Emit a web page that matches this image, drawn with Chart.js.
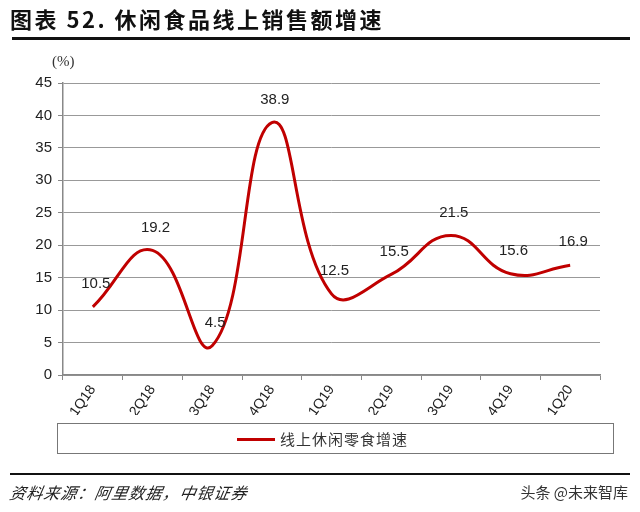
<!DOCTYPE html>
<html>
<head>
<meta charset="utf-8">
<script src="https://cdn.jsdelivr.net/npm/chart.js@4.4.1/dist/chart.umd.min.js"></script>
<style>
  html, body { margin: 0; padding: 0; background: #fff; }
  #wrap { position: relative; width: 640px; height: 512px; overflow: hidden; }
  #c { position: absolute; left: 0; top: 0; }
  .t { position: absolute; white-space: nowrap; }
  #title { left: 10px; top: 2px; font: bold 22px "Noto Sans CJK SC", sans-serif; letter-spacing: 2.5px; color: #111; }
  #tline { position: absolute; left: 12px; top: 37px; width: 618px; height: 3px; background: #111; }
  #unit { left: 52px; top: 53px; font: 15px "Liberation Serif", serif; color: #333; }
  #legbox { position: absolute; left: 57px; top: 423px; width: 557px; height: 31px; border: 1px solid #777; box-sizing: border-box; }
  #legline { position: absolute; left: 237px; top: 438px; width: 38px; height: 3px; background: #c00000; }
  #legtxt { left: 280px; top: 428px; font: 15px "Noto Sans CJK SC", sans-serif; color: #333; letter-spacing: 1px; }
  #fline { position: absolute; left: 10px; top: 473px; width: 620px; height: 2px; background: #111; }
  #src { left: 10px; top: 480px; font: italic 16px "Noto Sans CJK SC", serif; color: #222; letter-spacing: 1px; transform: skewX(-10deg); }
  #wm { right: 12px; top: 481px; font: 15px "Noto Sans CJK SC", sans-serif; color: #333; }
</style>
</head>
<body>
<div id="wrap">
  <canvas id="c" width="640" height="512"></canvas>
  <div class="t" id="title">图表 52. 休闲食品线上销售额增速</div>
  <div id="tline"></div>
  <div class="t" id="unit">(%)</div>
  <div id="legbox"></div>
  <div id="legline"></div>
  <div class="t" id="legtxt">线上休闲零食增速</div>
  <div id="fline"></div>
  <div class="t" id="src">资料来源：阿里数据，中银证券</div>
  <div class="t" id="wm">头条 @未来智库</div>
</div>
<script>
const categories = ["1Q18","2Q18","3Q18","4Q18","1Q19","2Q19","3Q19","4Q19","1Q20"];
const growth = [10.5, 19.2, 4.5, 38.9, 12.5, 15.5, 21.5, 15.6, 16.9];
const seriesName = "线上休闲零食增速";
const yTicks = [0, 5, 10, 15, 20, 25, 30, 35, 40, 45];

const labelPlugin = {
  id: 'valueLabels',
  afterDatasetsDraw(chart) {
    const ctx = chart.ctx;
    const meta = chart.getDatasetMeta(0);
    ctx.save();
    ctx.font = '15px "Liberation Sans", Arial, sans-serif';
    ctx.fillStyle = '#222';
    ctx.textAlign = 'center';
    ctx.textBaseline = 'middle';
    meta.data.forEach((pt, i) => {
      ctx.fillText(growth[i].toFixed(1), pt.x + 3, pt.y - 23);
    });
    ctx.restore();
  }
};

new Chart(document.getElementById('c'), {
  type: 'line',
  data: {
    labels: categories,
    datasets: [{
      label: seriesName,
      data: growth,
      borderColor: '#c00000',
      borderWidth: 3,
      pointRadius: 0,
      tension: 0.45,
      fill: false
    }]
  },
  options: {
    responsive: false,
    animation: false,
    layout: { padding: { left: 0, right: 40, top: 83, bottom: 97 } },
    plugins: { legend: { display: false }, tooltip: { enabled: false } },
    scales: {
      x: {
        offset: true,
        grid: { display: true, drawOnChartArea: false, offset: true, tickLength: 5, color: '#888' },
        border: { color: '#888', width: 1.5 },
        ticks: {
          minRotation: 55, maxRotation: 55, padding: 2,
          color: '#222',
          font: { family: '"Liberation Sans", Arial, sans-serif', size: 14 }
        },
        afterFit(s) { s.height = 40; }
      },
      y: {
        min: 0, max: 45,
        afterBuildTicks(s) { s.ticks = yTicks.map(v => ({ value: v })); },
        grid: { color: '#999', lineWidth: 1, tickLength: 5, tickColor: '#888' },
        border: { color: '#888', width: 1.5 },
        ticks: {
          padding: 6,
          color: '#222',
          font: { family: '"Liberation Sans", Arial, sans-serif', size: 15 }
        },
        afterFit(s) { s.width = 63; }
      }
    }
  },
  plugins: [labelPlugin]
});
</script>
</body>
</html>
